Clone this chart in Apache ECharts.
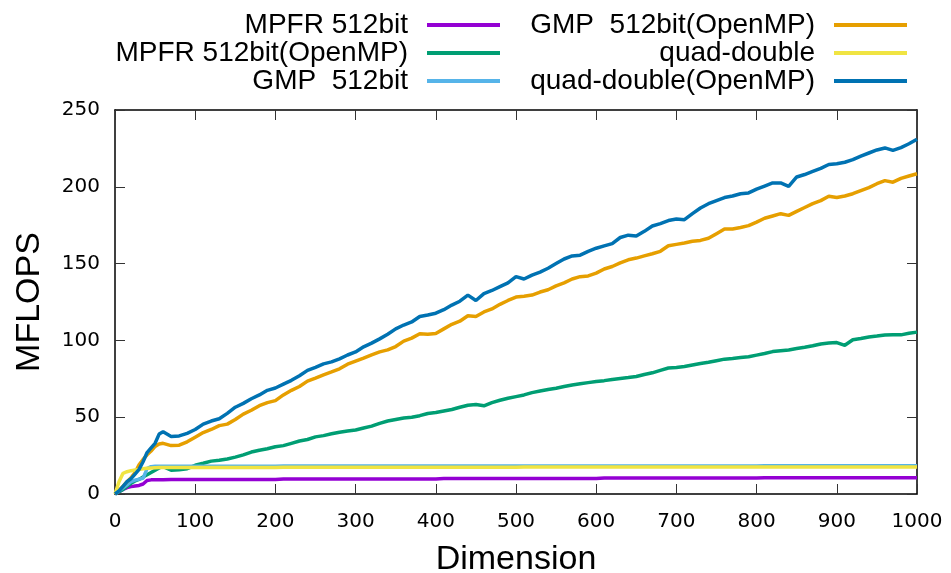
<!DOCTYPE html>
<html>
<head>
<meta charset="utf-8">
<script src="https://cdn.jsdelivr.net/npm/echarts@6/dist/echarts.min.js"></script>
<style>html,body{margin:0;padding:0;background:#fff;}#c{width:951px;height:573px;}</style>
</head>
<body>
<div id="c"></div>
<script>
const dims = [0,5,10,15,20,25,30,35,40,45,50,55,60,
70,80,90,100,110,120,130,140,150,160,170,180,190,200,210,220,230,240,250,260,270,280,290,300,
310,320,330,340,350,360,370,380,390,400,410,420,430,440,450,460,470,480,490,500,
510,520,530,540,550,560,570,580,590,600,610,620,630,640,650,660,670,680,690,700,
710,720,730,740,750,760,770,780,790,800,810,820,830,840,850,860,870,880,890,900,
910,920,930,940,950,960,970,980,990,1000];

const mpfr = [0,1.5,3,4.2,4.8,5.2,5.6,6.5,8.8,9.2,9.3,9.3,9.3,
9.4,9.4,9.4,9.4,9.4,9.4,9.4,9.4,9.4,9.4,9.4,9.4,9.4,9.4,
9.8,9.8,9.8,9.8,9.8,9.8,9.8,9.8,9.8,9.8,9.8,9.8,9.8,9.8,9.8,9.8,9.8,9.8,9.8,9.8,
10.1,10.1,10.1,10.1,10.1,10.1,10.1,10.1,10.1,10.1,10.1,10.1,10.1,10.1,10.1,10.1,10.1,10.1,10.1,10.1,
10.4,10.4,10.4,10.4,10.4,10.4,10.4,10.4,10.4,10.4,10.4,10.4,10.4,10.4,10.4,10.4,10.4,10.4,10.4,10.4,
10.6,10.6,10.6,10.6,10.6,10.6,10.6,10.6,10.6,10.6,10.6,10.6,10.6,10.6,10.6,10.6,10.6,10.6,10.6,10.6];

const mpfrOmp = [0,1.5,3,5,7,8.5,9.5,11,12.5,14,15.5,17,17.8,
15.5,15.8,16.5,18.7,20,21.4,22,22.8,24,25.5,
27.3,28.5,29.5,30.8,31.5,33,34.5,35.5,37.2,38,
39.2,40.2,41,41.7,43,44.2,46,47.5,48.5,49.5,
50,51,52.4,53,54,55,56.5,57.8,58.2,57.4,
59.5,61,62.3,63.4,64.5,66,67,68,68.9,70,
71,71.8,72.5,73.2,73.8,74.6,75.2,75.8,76.5,77.8,
78.9,80.5,82,82.3,83,84,85,85.8,86.8,87.8,
88.2,88.8,89.3,90.4,91.5,92.7,93.3,93.8,94.7,95.5,
96.5,97.7,98.3,98.6,96.8,100.4,101.2,102.2,102.8,103.5,
103.7,103.6,104.6,105.4];

const gmp = [0,2,4,6,8,9,9.7,10.2,16.5,17.8,18,18.1,18.1,
18.1,18.1,18.1,18.1,18.1,18.1,18.1,18.1,18.1,18.1,18.1,18.1,18.1,18.1,
18.2,18.2,18.2,18.2,18.2,18.2,18.2,18.2,18.2,18.2,18.2,18.2,18.2,18.2,18.2,
18.2,18.2,18.2,18.2,18.2,18.2,18.2,18.2,18.2,18.2,18.2,18.2,18.2,18.2,18.2,
18.3,18.3,18.3,18.3,18.3,18.3,18.3,18.3,18.3,18.3,18.3,18.3,18.3,18.3,18.3,
18.3,18.3,18.3,18.3,18.3,18.3,18.3,18.3,18.3,18.3,18.3,18.3,18.3,18.3,18.3,
18.4,18.4,18.4,18.4,18.4,18.4,18.4,18.4,18.4,18.4,18.4,18.4,18.4,18.4,18.4,18.4,18.4,18.4,18.4,18.4];

const gmpOmp = [0,2.5,5,8,10.5,14,19,22.5,25.5,28,31,32.5,33,
31.5,31.8,34,37,40,42,44.5,45.5,48.5,52,
54.5,57.5,59.5,60.8,64.5,67.5,70,73.5,75.5,77.6,
79.5,81.5,84.5,86.5,88.5,90.6,92.5,93.8,96,99.5,
101.5,104.3,104,104.5,107.5,110.5,112.5,116,115.6,118.5,
120.5,123.5,126,128.2,128.8,129.5,131.5,133,135.5,137.5,
140,141.5,142,143.8,146.5,148.1,150.5,152.5,153.6,155,
156.4,158,161.6,162.5,163.4,164.5,165.1,166.5,169.5,172.5,
172.5,173.5,174.7,177,179.5,181,182.5,181.4,184,186.5,
189,191,193.8,193,194,195.5,197.5,199.5,202,204,
203,205.5,207,208.5];

const qd = [0,8,13.5,14.5,15.2,15.6,16,16.4,16.8,17,17.1,17.2,17.3,
17.3,17.3,17.3,17.3,17.3,17.3,17.3,17.3,17.3,17.3,17.3,17.3,17.3,17.3,
17.4,17.4,17.4,17.4,17.4,17.4,17.4,17.4,17.4,17.4,17.4,17.4,17.4,17.4,17.4,
17.4,17.4,17.4,17.4,17.4,17.4,17.4,17.4,17.4,17.4,17.4,17.4,17.4,17.4,17.4,
17.5,17.5,17.5,17.5,17.5,17.5,17.5,17.5,17.5,17.5,17.5,17.5,17.5,17.5,17.5,
17.5,17.5,17.5,17.5,17.5,17.5,17.5,17.5,17.5,17.5,17.5,17.5,17.5,17.5,17.5,
17.5,17.5,17.5,17.5,17.5,17.5,17.5,17.5,17.5,17.5,17.5,17.5,17.5,17.5,17.5,17.5,17.5,17.5,17.5,17.5];

const qdOmp = [0,2,5,8,10,13,16,21,27,30,33,39,40.5,
37.5,37.8,39.5,42,45.5,47.5,49,52.5,56.5,59,
62,64.5,67.5,69,71.5,74,77,80.5,82.5,84.7,
86,88,90.5,92.5,95.8,98.2,101,104,107.5,110,
112,115.6,116.5,117.7,120,123,125.5,129.5,126,130.5,
132.5,135,137.5,141.5,140,142.5,144.5,147,150,153,
155,155.5,158,160,161.5,163,167,168.5,168,171,
174.5,176,178,179,178.6,182.5,186.2,189,191,193,
194,195.5,196,198.5,200.5,202.5,202.5,200.3,206.4,208,
210,212,214.5,215,216,217.7,220,222,224,225.3,
223.7,225.5,228,231];

const names = ['MPFR 512bit','MPFR 512bit(OpenMP)','GMP  512bit','GMP  512bit(OpenMP)','quad-double','quad-double(OpenMP)'];
const colors = ['#9400d3','#009e73','#56b4e9','#e69f00','#f0e442','#0072b2'];
const values = [mpfr, mpfrOmp, gmp, gmpOmp, qd, qdOmp];

const chart = echarts.init(document.getElementById('c'), null, {renderer:'canvas'});

const legendPos = [
  {right: 451, top: 11}, {right: 451, top: 39}, {right: 451, top: 67},
  {right: 44, top: 11}, {right: 44, top: 39}, {right: 44, top: 67}
];
const legends = names.map((n, i) => ({
  data: [n], right: legendPos[i].right, top: legendPos[i].top, orient: 'horizontal',
  align: 'right', icon: 'rect', itemWidth: 73, itemHeight: 4, padding: 0,
  selectedMode: false,
  textStyle: {fontFamily: 'Liberation Sans', fontSize: 28, color: '#000', lineHeight: 28, padding: [0, 14, 0, 0]}
}));

const axisLine = {show: true, onZero: false, lineStyle: {color: '#000', width: 1.5}};
const tickStyle = {show: true, inside: true, length: 10, lineStyle: {color: '#333', width: 1}};
const labelFont = {fontFamily: 'DejaVu Sans', fontSize: 20, color: '#000', formatter: (v) => String(v)};

chart.setOption({
  animation: false,
  backgroundColor: '#fff',
  legend: legends,
  grid: {left: 115, right: 34, top: 110, bottom: 79, containLabel: false, outerBoundsMode: 'none'},
  xAxis: [
    {type: 'value', min: 0, max: 1000, interval: 100, position: 'bottom',
     axisLine: axisLine, axisTick: tickStyle, splitLine: {show: false},
     axisLabel: Object.assign({margin: 18}, labelFont),
     name: 'Dimension', nameLocation: 'middle', nameGap: 49,
     nameTextStyle: {fontFamily: 'Liberation Sans', fontSize: 34, color: '#000'}},
    {type: 'value', min: 0, max: 1000, interval: 100, position: 'top',
     axisLine: axisLine, axisTick: tickStyle, splitLine: {show: false}, axisLabel: {show: false}}
  ],
  yAxis: [
    {type: 'value', min: 0, max: 250, interval: 50, position: 'left',
     axisLine: axisLine, axisTick: tickStyle, splitLine: {show: false},
     axisLabel: Object.assign({margin: 15}, labelFont),
     name: 'MFLOPS', nameLocation: 'middle', nameGap: 68, nameRotate: 90,
     nameTextStyle: {fontFamily: 'Liberation Sans', fontSize: 34, color: '#000'}},
    {type: 'value', min: 0, max: 250, interval: 50, position: 'right',
     axisLine: axisLine, axisTick: tickStyle, splitLine: {show: false}, axisLabel: {show: false}}
  ],
  series: names.map((n, i) => ({
    name: n, type: 'line', xAxisIndex: 0, yAxisIndex: 0,
    data: dims.map((d, k) => [d, values[i][k]]),
    showSymbol: false, symbol: 'none',
    lineStyle: {color: colors[i], width: 3.5},
    itemStyle: {color: colors[i]},
    z: 2 + i
  }))
});
</script>
</body>
</html>
